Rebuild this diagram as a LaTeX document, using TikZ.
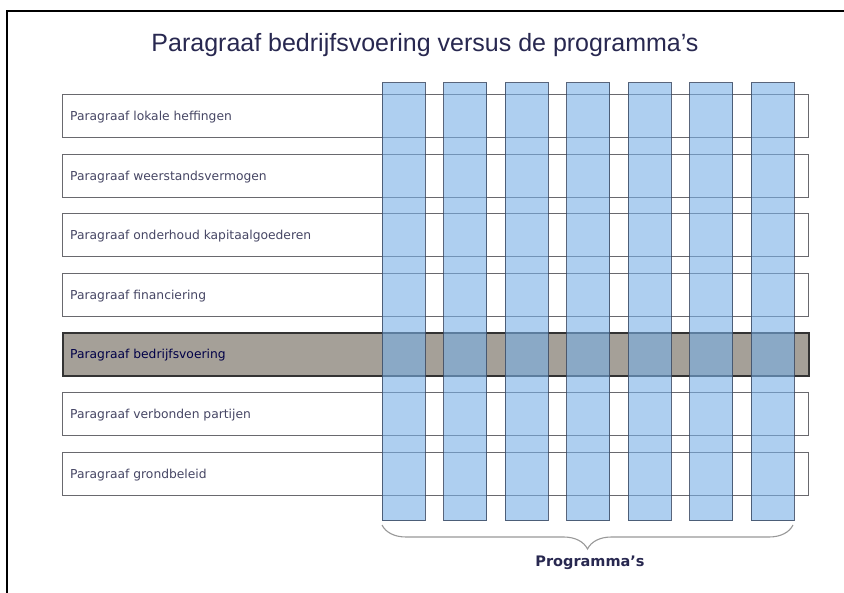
\documentclass[tikz,border=0pt]{standalone}
\usepackage{fontspec}
\setmainfont{DejaVu Sans}
\newfontfamily\titlefont{Liberation Sans}
\usetikzlibrary{decorations.pathreplacing}
\definecolor{rowline}{RGB}{105,105,110}
\definecolor{rowtext}{RGB}{70,70,100}
\definecolor{colfill}{RGB}{120,175,230}
\definecolor{colline}{RGB}{60,75,100}
\definecolor{grayrow}{RGB}{165,160,152}
\definecolor{titletext}{RGB}{40,40,80}
\begin{document}
\begin{tikzpicture}[x=1pt,y=-1pt,
  rowbox/.style={draw=rowline,line width=1.3pt,fill=white,minimum width=746pt,minimum height=43pt,anchor=north west,inner sep=0pt},
  rowlabel/.style={anchor=west,font=\fontsize{12.3}{14}\selectfont,text=rowtext,inner sep=0pt},
  colbox/.style={draw=colline,line width=1.1pt,fill=colfill,fill opacity=0.6,draw opacity=0.85,minimum width=43pt,minimum height=438pt,anchor=north west,inner sep=0pt}]
\useasboundingbox (0,0) rectangle (844,593);
\fill[white] (0,0) rectangle (844,593);
% frame
\draw[line width=2.5pt,black] (7,593) -- (7,11) -- (844,11);
% title
\node[font=\titlefont\fontsize{25}{28}\selectfont,text=titletext] (title) at (425,45) {Paragraaf bedrijfsvoering versus de programma’s};
% rows
\node[rowbox] (r1) at (62,94) {};
\node[rowbox] (r2) at (62,154) {};
\node[rowbox] (r3) at (62,213) {};
\node[rowbox] (r4) at (62,273) {};
\node[rowbox,fill=grayrow,draw=black!80,line width=1.6pt] (r5) at (62,332) {};
\node[rowbox] (r6) at (62,392) {};
\node[rowbox] (r7) at (62,452) {};
\node[rowlabel] (l1) at (70,117) {Paragraaf lokale heffingen};
\node[rowlabel] (l2) at (70,177) {Paragraaf weerstandsvermogen};
\node[rowlabel] (l3) at (70,236) {Paragraaf onderhoud kapitaalgoederen};
\node[rowlabel] (l4) at (70,296) {Paragraaf financiering};
\node[rowlabel,text=black!60!blue!70!black] (l5) at (70,355) {Paragraaf bedrijfsvoering};
\node[rowlabel] (l6) at (70,415) {Paragraaf verbonden partijen};
\node[rowlabel] (l7) at (70,475) {Paragraaf grondbeleid};
% columns
\node[colbox] (c1) at (381.5,82) {};
\node[colbox] (c2) at (443,82) {};
\node[colbox] (c3) at (504.5,82) {};
\node[colbox] (c4) at (566,82) {};
\node[colbox] (c5) at (627.5,82) {};
\node[colbox] (c6) at (689,82) {};
\node[colbox] (c7) at (750.5,82) {};
% brace
\coordinate (b1) at (382,525);
\coordinate (b2) at (793,525);
\draw[draw=black!40,line width=1.1pt,decorate,decoration={brace,amplitude=24pt,aspect=0.5}] (b2) -- (b1);
\node[font=\bfseries\fontsize{14.5}{16}\selectfont,text=titletext] (prog) at (590,563) {Programma’s};
\end{tikzpicture}
\end{document}
